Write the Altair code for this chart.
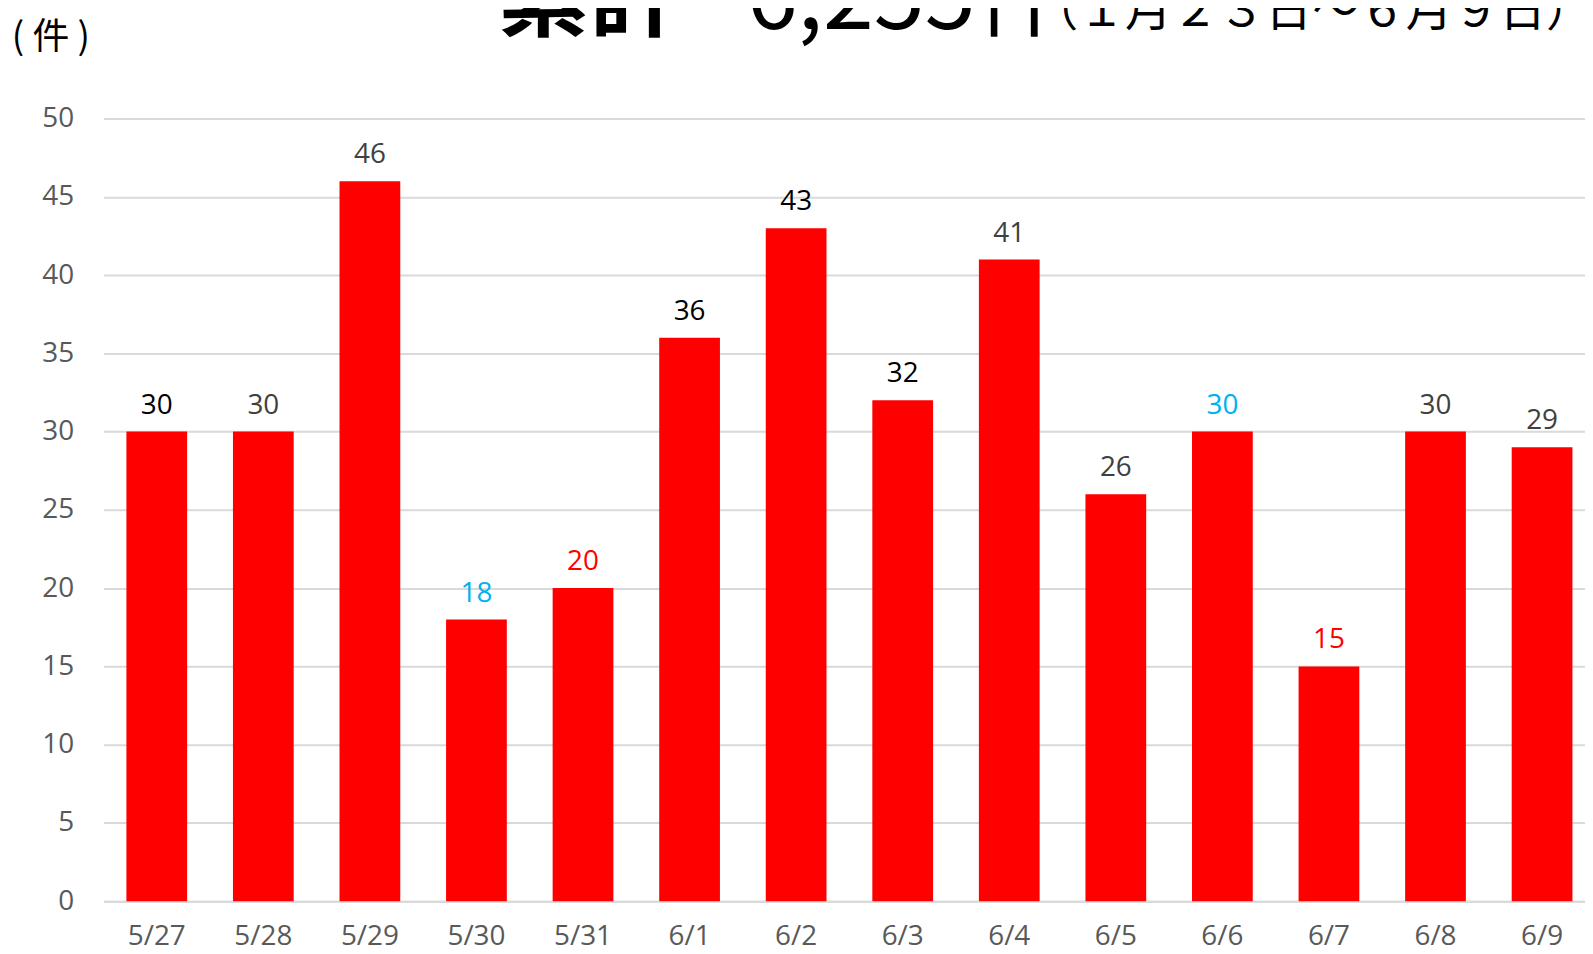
import altair as alt
import pandas as pd

# ---- data ----
dates = ["5/27", "5/28", "5/29", "5/30", "5/31", "6/1", "6/2",
         "6/3", "6/4", "6/5", "6/6", "6/7", "6/8", "6/9"]
counts = [30, 30, 46, 18, 20, 36, 43, 32, 41, 26, 30, 15, 30, 29]
label_kind = ["dark", "gray", "gray", "sat", "sun", "dark", "dark",
              "dark", "gray", "gray", "sat", "sun", "gray", "gray"]
y_ticks = [0, 5, 10, 15, 20, 25, 30, 35, 40, 45, 50]

unit_text = ["( 件 )"]
title_head = ["累計"]
title_total = ["6,255件"]
title_period = ["（１月２３日～６月９日）"]

df = pd.DataFrame({"date": dates, "count": counts, "kind": label_kind})

FONT = "Open Sans"
CJK = "Noto Sans CJK JP"

x_enc = alt.X(
    "date:N", sort=dates, title=None,
    scale=alt.Scale(paddingInner=0.43, paddingOuter=0.166, align=0.645),
    axis=alt.Axis(labelAngle=0, ticks=False, domainColor="#d9d9d9", domainWidth=2,
                  labelFontSize=28, labelFont=FONT, labelColor="#595959",
                  labelPadding=22, grid=False),
)
y_enc = alt.Y(
    "count:Q", title=None,
    scale=alt.Scale(domain=[0, 50], nice=False),
    axis=alt.Axis(values=y_ticks, grid=True, gridColor="#d9d9d9", gridWidth=2,
                  domain=False, ticks=False, labelFontSize=28, labelFont=FONT,
                  labelColor="#595959", labelPadding=30),
)

base = alt.Chart(df)
bars = base.mark_bar(color="#FF0000").encode(x=x_enc, y=y_enc)
labels = base.mark_text(baseline="alphabetic", dy=-18, fontSize=28, font=FONT).encode(
    x=alt.X("date:N", sort=dates),
    y=alt.Y("count:Q"),
    text=alt.Text("count:Q"),
    color=alt.Color("kind:N",
                    scale=alt.Scale(domain=["dark", "gray", "sat", "sun"],
                                    range=["#000000", "#404040", "#00B0F0", "#FF0000"]),
                    legend=None),
)

unit = alt.Chart(pd.DataFrame({"t": unit_text})).mark_text(
    font=CJK, fontSize=37, align="center", baseline="alphabetic", color="#000000"
).encode(text="t:N", x=alt.value(-53), y=alt.value(-70))

head = alt.Chart(pd.DataFrame({"t": title_head})).mark_text(
    font=CJK, fontSize=92, fontWeight="bold", align="left", baseline="alphabetic",
    color="#000000"
).encode(text="t:N", x=alt.value(396), y=alt.value(-90))

total = alt.Chart(pd.DataFrame({"t": title_total})).mark_text(
    font=CJK, fontSize=92, align="left", baseline="alphabetic", color="#000000"
).encode(text="t:N", x=alt.value(646), y=alt.value(-90))

period = alt.Chart(pd.DataFrame({"t": title_period})).mark_text(
    font=CJK, fontSize=47, align="left", baseline="alphabetic", color="#000000"
).encode(text="t:N", x=alt.value(932), y=alt.value(-93))

chart = alt.layer(bars, labels, unit, head, total, period).properties(
    width=1488, height=786,
    autosize=alt.AutoSizeParams(type="none"),
    padding={"left": 96, "top": 109, "right": 0, "bottom": 51},
).configure_view(stroke=None)

chart.save("out.html", embed_options={"renderer": "svg", "actions": False})
